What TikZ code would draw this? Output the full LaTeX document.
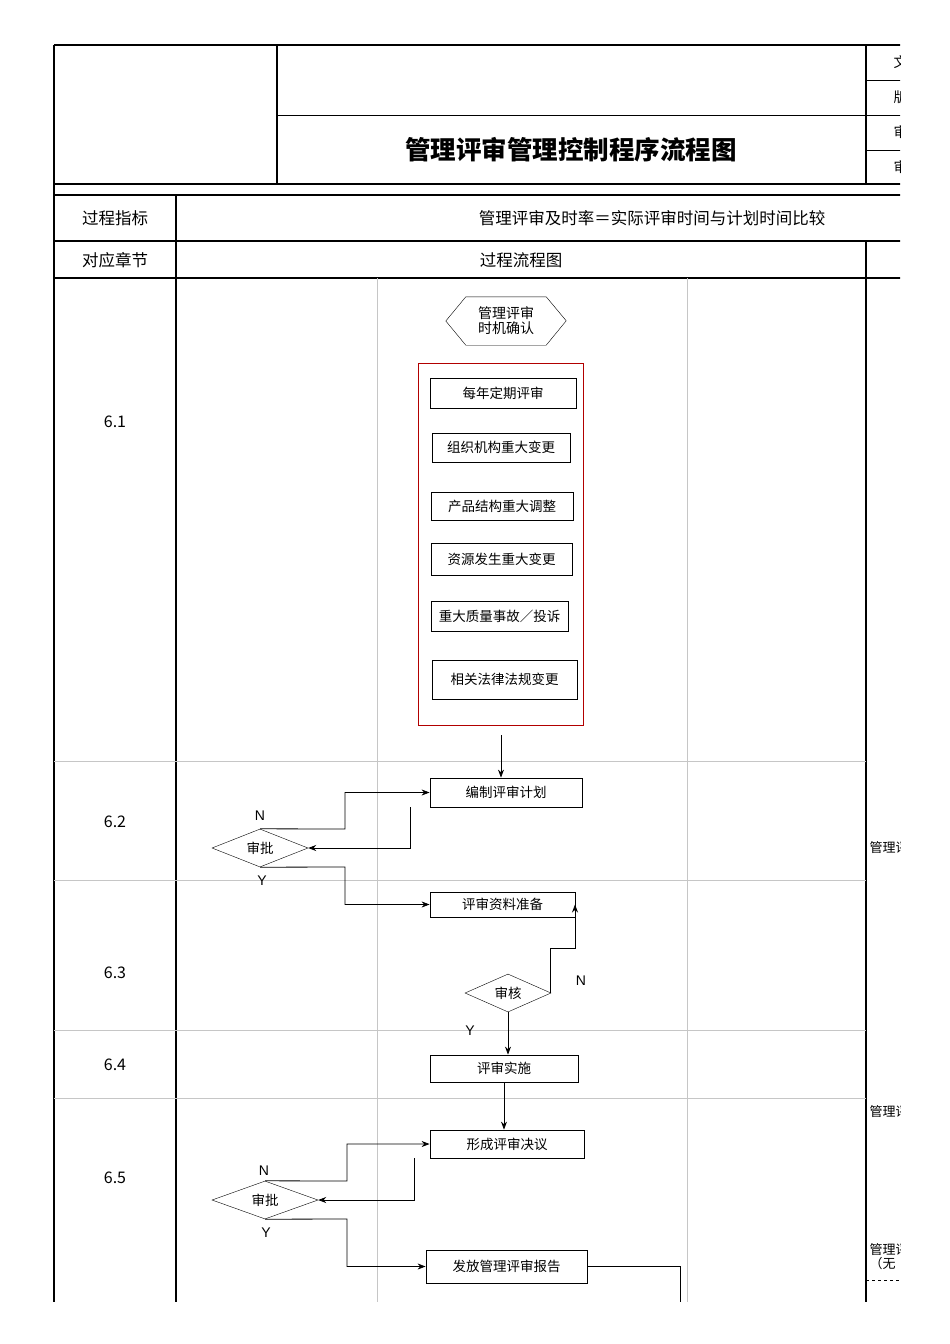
\documentclass[tikz,border=0pt]{standalone}
\usepackage{fontspec}
\setmainfont{Noto Sans CJK SC}
\newfontfamily\lat{Liberation Sans}
\usetikzlibrary{shapes.geometric,arrows.meta}
\begin{document}
\begin{tikzpicture}[x=1pt,y=-1pt,
  box/.style={draw,thick,inner sep=0pt,font=\fontsize{13.5}{13.5}\selectfont},
  dia/.style={draw,diamond,aspect=2.6,inner sep=1pt,font=\fontsize{13.5}{13.5}\selectfont},
  arr/.style={-{Stealth[length=8pt,width=6pt]},thick},
  thk/.style={line width=2pt},
  grid/.style={gray!45,line width=0.6pt},
  yn/.style={font=\lat\fontsize{14}{14}\selectfont}]
\useasboundingbox (0,0) rectangle (950,1344);
\begin{scope}
\clip (0,0) rectangle (900,1344);
% header
\draw[thk] (54,45) -- (905,45);
\draw[thk] (54,45) -- (54,1302);
\draw[line width=1.2pt] (277,45) -- (277,184);
\draw[line width=1.2pt] (866,45) -- (866,184);
\draw[line width=1pt] (277,115) -- (905,115);
\draw[line width=0.8pt] (866,80) -- (905,80) (866,150) -- (905,150);
\draw[thk] (54,184) -- (905,184);
\draw[thk] (54,195) -- (905,195);
\draw[thk] (54,241) -- (905,241);
\draw[thk] (54,278) -- (905,278);
\draw[thk] (176,195) -- (176,1302);
\draw[thk] (866,241) -- (866,1302);
\node[font=\bfseries\fontsize{25.5}{25.5}\selectfont] (title) at (571,150) {管理评审管理控制程序流程图};
\foreach \y/\t in {62/文,97/版,132/审,167/审}
  \node[anchor=west,font=\fontsize{14}{14}\selectfont] at (890,\y) {\t};
\node[font=\fontsize{16.5}{16.5}\selectfont] (k1) at (115,218) {过程指标};
\node[font=\fontsize{16.5}{16.5}\selectfont] (k2) at (652,218) {管理评审及时率＝实际评审时间与计划时间比较};
\node[font=\fontsize{16.5}{16.5}\selectfont] (k3) at (115,260) {对应章节};
\node[font=\fontsize{16.5}{16.5}\selectfont] (k4) at (521,260) {过程流程图};
% grid
\draw[grid] (377,278) -- (377,1302) (687,278) -- (687,1302);
\foreach \y in {761,880,1030,1098} \draw[grid] (54,\y) -- (866,\y);
\foreach \y/\t in {422/6.1,822/6.2,973/6.3,1065/6.4,1178/6.5}
  \node[font=\fontsize{16}{16}\selectfont] at (115,\y) {\t};
% right column
\node[anchor=west,font=\fontsize{13}{13}\selectfont] at (866,848) {管理评审};
\node[anchor=west,font=\fontsize{13}{13}\selectfont] at (866,1112) {管理评审};
\node[anchor=west,font=\fontsize{13}{13}\selectfont] at (866,1250) {管理评审};
\node[anchor=west,font=\fontsize{13}{13}\selectfont] at (866,1264) {（无};
\draw[dashed,thick] (866,1280) -- (905,1280);
\end{scope}
% 6.1
\node[minimum width=80pt,minimum height=48pt,inner sep=0pt,align=center,font=\fontsize{14}{15}\selectfont] (hex) at (506,321) {管理评审\\时机确认};
\draw (hex.west) ++(-20,0) -- (hex.north west) -- (hex.north east) -- ++(20,24) -- (hex.south east) -- (hex.south west) -- cycle;
\draw[red!70!black,thick] (418,363) rectangle (583,725);
\node[box,minimum width=146pt,minimum height=30pt] (b1) at (503,393) {每年定期评审};
\node[box,minimum width=138pt,minimum height=29pt] (b2) at (501,447.5) {组织机构重大变更};
\node[box,minimum width=142pt,minimum height=28pt] (b3) at (502,506) {产品结构重大调整};
\node[box,minimum width=141pt,minimum height=32pt] (b4) at (501.5,559) {资源发生重大变更};
\node[box,minimum width=137pt,minimum height=30pt] (b5) at (499.5,616) {重大质量事故／投诉};
\node[box,minimum width=145pt,minimum height=39pt] (b6) at (504.5,679.5) {相关法律法规变更};
\coordinate (s1) at (501,735);
% 6.2
\node[box,minimum width=152pt,minimum height=29pt] (p1) at (506,792.5) {编制评审计划};
\draw[arr] (s1) -- (s1 |- p1.north);
\node[dia,minimum width=96pt,minimum height=38pt] (d1) at (260,848) {审批};
\node[yn] at (260,816) {N};
\node[yn] at (262,881) {Y};
\draw[arr] (d1.north) -- (345,829) |- (p1.west);
\draw[arr] (410,807) |- (d1.east);
% 6.3
\node[box,minimum width=145pt,minimum height=25pt] (p2) at (502.5,904.5) {评审资料准备};
\draw[arr] (d1.south) -- (345,867) |- (p2.west);
\node[dia,minimum width=86pt,minimum height=38pt] (d2) at (508,993) {审核};
\node[yn] at (581,981) {N};
\node[yn] at (470,1031) {Y};
\coordinate (n2) at (575,948);
\draw[arr] (550,993) -- (550,948) -- (n2) -- (n2 |- p2.east);
% 6.4
\node[box,minimum width=148pt,minimum height=27pt] (p3) at (504,1068.5) {评审实施};
\draw[arr] (d2.south) -- (d2.south |- p3.north);
% 6.5
\node[box,minimum width=154pt,minimum height=28pt] (p4) at (507,1144) {形成评审决议};
\draw[arr] (p3.south) -- (p3.south |- p4.north);
\node[dia,minimum width=106pt,minimum height=38pt] (d3) at (265,1200) {审批};
\node[yn] at (264,1171) {N};
\node[yn] at (266,1233) {Y};
\draw[arr] (d3.north) -- (347,1181) |- (p4.west);
\draw[arr] (414,1158) |- (d3.east);
\node[box,minimum width=161pt,minimum height=33pt] (p5) at (506.5,1266.5) {发放管理评审报告};
\draw[arr] (d3.south) -- (347,1219) |- (p5.west);
\coordinate (e5) at (680,1302);
\draw[thick] (p5.east) -| (e5);
\end{tikzpicture}
\end{document}
